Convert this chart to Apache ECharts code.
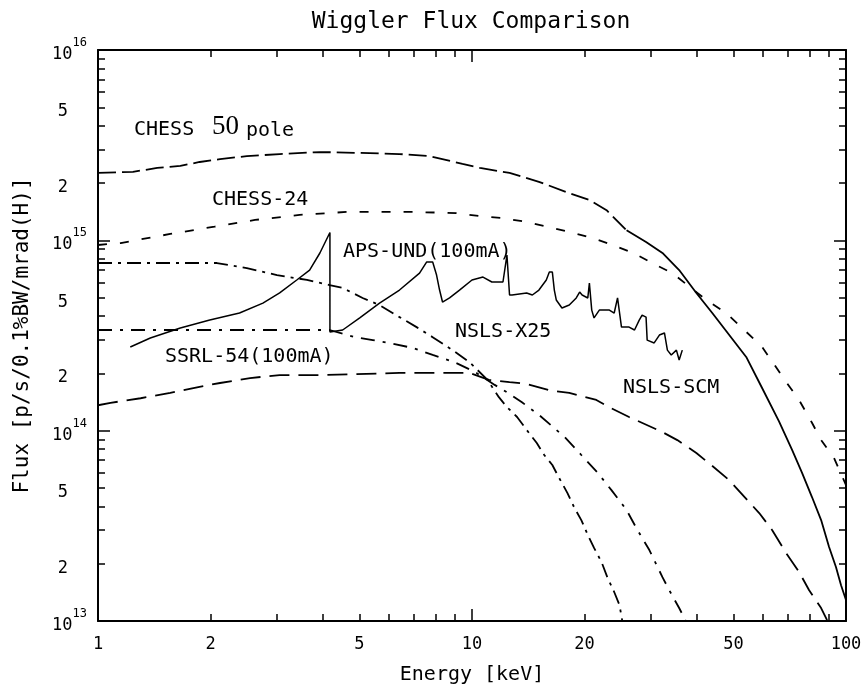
<!DOCTYPE html>
<html lang="en">
<head>
<meta charset="UTF-8">
<title>Wiggler Flux Comparison</title>
<script src="https://cdn.jsdelivr.net/npm/echarts@6/dist/echarts.min.js"></script>
<style>html,body{margin:0;padding:0;background:#fff;}</style>
</head>
<body>
<div id="main" style="width:865px;height:690px;"></div>
<script type="text/javascript">
// energy in keV, flux in units of 1e14 p/s/0.1%BW/mrad(H)
var FLUX_UNIT = 1e14;

var chess50E = [1.0, 1.24, 1.44, 1.66, 1.87, 2.12, 2.5, 3.06, 3.92, 5.0, 6.4, 7.7, 9.43, 10.5, 12.6, 15.1, 18.2, 20.6, 22.9, 25.9,
    29.2, 32.3, 35.8, 39.8, 43.9, 54.1, 59.7, 66.2, 71.8, 76.3, 81.1, 85.8, 90.1, 94.0, 97.0, 100];
var chess50F = [22.6, 22.9, 24.0, 24.6, 25.8, 26.7, 27.7, 28.4, 29.1, 28.8, 28.4, 27.7, 25.2, 24.0, 22.6, 20.3, 17.7, 16.3, 14.4, 11.3,
    9.8, 8.58, 6.98, 5.29, 4.15, 2.44, 1.67, 1.12, 0.79, 0.60, 0.448, 0.339, 0.245, 0.192, 0.154, 0.129];
var chess50SolidFrom = 25.9;   // the curve is drawn solid from here on

var chess24E = [1.0, 1.15, 1.56, 2.05, 2.63, 3.46, 4.62, 6.94, 9.09, 10.5, 12.0, 14.0, 15.9, 18.1, 20.6, 23.4, 27.0, 30.3, 34.3, 42.3,
    47.8, 52.8, 59.7, 69.2, 74.9, 81.1, 85.8, 92.9, 100];
var chess24F = [9.45, 9.68, 10.8, 11.8, 12.8, 13.6, 14.1, 14.1, 13.9, 13.4, 13.1, 12.5, 11.8, 11.1, 10.4, 9.56, 8.58, 7.60, 6.73, 4.86,
    4.15, 3.46, 2.75, 1.80, 1.45, 1.10, 0.892, 0.718, 0.518];

var x25E = [1.0, 2.08, 2.5, 3.01, 3.62, 4.16, 4.51, 5.1, 5.66, 6.4, 7.11, 7.85, 8.87, 9.85, 11.0, 11.8, 12.4, 13.2, 14.0, 14.9,
    15.6, 16.4, 17.1, 18.0, 18.8, 19.6, 20.4, 21.2, 22.2, 23.0, 24.0, 24.8, 25.2];
var x25F = [7.60, 7.60, 7.15, 6.57, 6.19, 5.82, 5.62, 4.98, 4.57, 3.95, 3.50, 3.10, 2.65, 2.29, 1.85, 1.50, 1.33, 1.18, 1.01, 0.861,
    0.745, 0.660, 0.564, 0.470, 0.392, 0.339, 0.283, 0.242, 0.204, 0.170, 0.142, 0.121, 0.101];

var ssrlE = [1.0, 4.16, 4.86, 5.43, 6.02, 6.94, 7.85, 8.98, 10.2, 11.5, 12.6, 13.6, 15.1, 16.8, 17.7, 19.6, 21.6, 23.6, 25.9, 27.5,
    29.8, 32.3, 33.7, 35.8, 37.2];
var ssrlF = [3.38, 3.38, 3.10, 2.99, 2.89, 2.72, 2.50, 2.29, 2.03, 1.74, 1.56, 1.41, 1.21, 1.01, 0.926, 0.745, 0.606, 0.487, 0.383, 0.308,
    0.236, 0.170, 0.145, 0.117, 0.101];

var scmE = [1.0, 1.08, 1.3, 1.56, 1.84, 2.12, 2.55, 3.06, 3.92, 6.4, 9.85, 11.1, 12.6, 14.0, 16.1, 18.2, 21.5, 23.6, 26.3, 32.3,
    35.4, 39.8, 43.6, 48.7, 58.6, 63.5, 69.2, 74.9, 79.7, 85.8, 89.0];
var scmF = [1.36, 1.40, 1.48, 1.58, 1.69, 1.78, 1.89, 1.96, 1.96, 2.01, 2.01, 1.85, 1.80, 1.76, 1.63, 1.58, 1.45, 1.31, 1.18, 0.983,
    0.892, 0.763, 0.660, 0.550, 0.369, 0.300, 0.227, 0.181, 0.145, 0.117, 0.101];

var apsE = [1.22, 1.38, 1.66, 1.99, 2.39, 2.76, 3.06, 3.40, 3.68, 3.92, 4.17, 4.17, 4.51, 5.01, 5.66, 6.40, 7.24, 7.56, 7.85, 8.04,
    8.19, 8.34, 8.71, 9.26, 10.0, 10.7, 11.3, 12.1, 12.4, 12.5, 12.6, 12.8, 14.0, 14.5, 15.1, 15.8, 16.1, 16.4, 16.6, 16.8,
    17.4, 18.2, 19.0, 19.4, 19.7, 20.4, 20.6, 20.9, 21.2, 21.9, 23.3, 24.0, 24.5, 25.1, 26.3, 27.2, 28.0, 28.5, 29.2, 29.4,
    30.7, 31.7, 32.7, 33.3, 34.1, 35.2, 35.8, 36.5];
var apsF = [2.75, 3.07, 3.46, 3.81, 4.15, 4.68, 5.29, 6.19, 6.98, 8.58, 11.0, 3.30, 3.38, 3.91, 4.68, 5.48, 6.73, 7.69, 7.69, 6.57,
    5.48, 4.74, 4.98, 5.48, 6.19, 6.41, 6.04, 6.04, 8.37, 8.37, 5.16, 5.16, 5.29, 5.16, 5.48, 6.19, 6.81, 6.81, 5.48, 4.86,
    4.41, 4.57, 4.98, 5.35, 5.16, 4.98, 5.96, 4.30, 3.91, 4.30, 4.30, 4.15, 4.98, 3.50, 3.50, 3.38, 3.81, 4.05, 3.95, 2.99,
    2.89, 3.18, 3.26, 2.65, 2.50, 2.65, 2.35, 2.65];

// axes
var xTickLabels = [1, 2, 5, 10, 20, 50, 100];
var xMajorTicks = [1, 10, 100];
var xMinorTicks = [2, 3, 4, 5, 6, 7, 8, 9, 20, 30, 40, 50, 60, 70, 80, 90];
var yTickLabels = [1e13, 2e13, 5e13, 1e14, 2e14, 5e14, 1e15, 2e15, 5e15, 1e16];
var yMajorTicks = [1e13, 1e14, 1e15, 1e16];
var yDecades = [1e13, 1e14, 1e15];
var mantissas = [2, 3, 4, 5, 6, 7, 8, 9];

var FONT = 'DejaVu Sans Mono';
var lg = Math.log10;

var yMinorTicks = [];
yDecades.forEach(function (d) {
    mantissas.forEach(function (m) { yMinorTicks.push(m * d); });
});

function toPoints(e, f) {
    var pts = [];
    for (var i = 0; i < e.length; ++i)
        pts.push([lg(e[i]), lg(f[i] * FLUX_UNIT)]);
    return pts;
}

function makeAxis(dim, position, ticks, len, showLine, label) {
    return {
        type: 'value',
        position: position,
        min: dim === 'x' ? 0 : 13,
        max: dim === 'x' ? 2 : 16,
        axisLine: {show: showLine, onZero: false, lineStyle: {color: '#000', width: 2}},
        axisTick: {show: true, inside: true, length: len, customValues: ticks.map(lg),
            lineStyle: {color: '#000', width: 1.5}},
        axisLabel: label || {show: false},
        splitLine: {show: false}
    };
}

var xLabel = {
    customValues: xTickLabels.map(lg),
    margin: 15,
    color: '#000',
    fontFamily: FONT,
    fontSize: 17,
    formatter: function (v) { return String(Math.round(Math.pow(10, v))); }
};

var yLabel = {
    customValues: yTickLabels.map(lg),
    margin: 11,
    formatter: function (v) {
        var e = Math.floor(v + 1e-6);
        var m = Math.round(Math.pow(10, v - e));
        return m === 1 ? '{b|10}{s|' + e + '}' : '{b|' + m + '}{sp| }';
    },
    rich: {
        b: {fontFamily: FONT, fontSize: 17, color: '#000', lineHeight: 26, verticalAlign: 'bottom'},
        s: {fontFamily: FONT, fontSize: 12, color: '#000', lineHeight: 26, verticalAlign: 'top'},
        sp: {fontFamily: FONT, fontSize: 17, width: 19}
    }
};

var bottomAxis = makeAxis('x', 'bottom', xMajorTicks, 12, true, xLabel);
bottomAxis.name = 'Energy [keV]';
bottomAxis.nameLocation = 'middle';
bottomAxis.nameGap = 44;
bottomAxis.nameTextStyle = {fontFamily: FONT, fontSize: 20, color: '#000'};

var leftAxis = makeAxis('y', 'left', yMajorTicks, 12, true, yLabel);
leftAxis.name = 'Flux [p/s/0.1%BW/mrad(H)]';
leftAxis.nameLocation = 'middle';
leftAxis.nameGap = 65;
leftAxis.nameRotate = 90;
leftAxis.nameTextStyle = {fontFamily: FONT, fontSize: 21, color: '#000'};

function lineSeries(name, pts, dash, width) {
    return {
        name: name,
        type: 'line',
        data: pts,
        showSymbol: false,
        symbol: 'none',
        silent: true,
        lineStyle: {color: '#000', width: width || 1.8, type: dash, cap: 'butt'}
    };
}

var chess50Pts = toPoints(chess50E, chess50F);
var splitIdx = chess50E.indexOf(chess50SolidFrom);

var myChart = echarts.init(document.getElementById('main'));
var option = {
    animation: false,
    backgroundColor: '#fff',
    title: {
        text: 'Wiggler Flux Comparison',
        left: 471,
        top: 11,
        textAlign: 'center',
        padding: 0,
        textStyle: {fontFamily: FONT, fontSize: 23, fontWeight: 'normal', color: '#000'}
    },
    grid: {left: 98, right: 19, top: 50, bottom: 69, containLabel: false},
    xAxis: [
        bottomAxis,
        makeAxis('x', 'bottom', xMinorTicks, 7, false),
        makeAxis('x', 'top', xMajorTicks, 12, true),
        makeAxis('x', 'top', xMinorTicks, 7, false)
    ],
    yAxis: [
        leftAxis,
        makeAxis('y', 'left', yMinorTicks, 7, false),
        makeAxis('y', 'right', yMajorTicks, 12, true),
        makeAxis('y', 'right', yMinorTicks, 7, false)
    ],
    series: [
        lineSeries('CHESS 50pole', chess50Pts.slice(0, splitIdx + 1), [18, 6]),
        lineSeries('CHESS 50pole', chess50Pts.slice(splitIdx), 'solid'),
        lineSeries('CHESS-24', toPoints(chess24E, chess24F), [9, 13]),
        lineSeries('NSLS-X25', toPoints(x25E, x25F), [14, 6, 3, 6]),
        lineSeries('SSRL-54(100mA)', toPoints(ssrlE, ssrlF), [14, 8, 3, 8]),
        lineSeries('NSLS-SCM', toPoints(scmE, scmF), [20, 9]),
        lineSeries('APS-UND(100mA)', toPoints(apsE, apsF), 'solid', 1.5)
    ],
    graphic: [
        {type: 'text', x: 134, y: 130, style: {text: 'CHESS', fontFamily: FONT, fontSize: 20, fill: '#000', verticalAlign: 'middle'}},
        {type: 'text', x: 212, y: 127, style: {text: '50', fontFamily: 'Liberation Serif', fontSize: 27, fill: '#000', verticalAlign: 'middle'}},
        {type: 'text', x: 246, y: 131, style: {text: 'pole', fontFamily: FONT, fontSize: 20, fill: '#000', verticalAlign: 'middle'}},
        {type: 'text', x: 212, y: 200, style: {text: 'CHESS-24', fontFamily: FONT, fontSize: 20, fill: '#000', verticalAlign: 'middle'}},
        {type: 'text', x: 343, y: 252, style: {text: 'APS-UND(100mA)', fontFamily: FONT, fontSize: 20, fill: '#000', verticalAlign: 'middle'}},
        {type: 'text', x: 455, y: 332, style: {text: 'NSLS-X25', fontFamily: FONT, fontSize: 20, fill: '#000', verticalAlign: 'middle'}},
        {type: 'text', x: 165, y: 357, style: {text: 'SSRL-54(100mA)', fontFamily: FONT, fontSize: 20, fill: '#000', verticalAlign: 'middle'}},
        {type: 'text', x: 623, y: 388, style: {text: 'NSLS-SCM', fontFamily: FONT, fontSize: 20, fill: '#000', verticalAlign: 'middle'}}
    ]
};
myChart.setOption(option);
</script>
</body>
</html>
